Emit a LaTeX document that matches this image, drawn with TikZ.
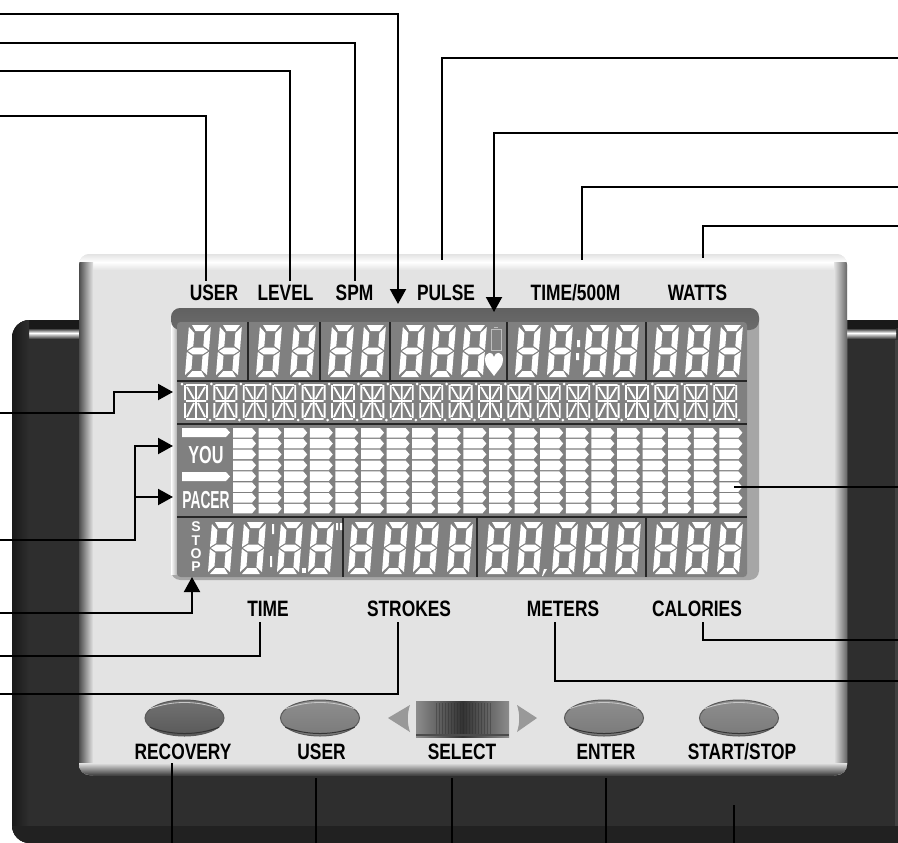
\documentclass[tikz,border=0pt]{standalone}
\usepackage{fontspec}
\setmainfont{Liberation Sans}
\newfontfamily\lblfont[FakeStretch=0.78]{Liberation Sans}
\newfontfamily\youfont[FakeStretch=0.66]{Liberation Sans}
\newfontfamily\pacerfont[FakeStretch=0.56]{Liberation Sans}
\usetikzlibrary{shapes.geometric, arrows.meta, positioning, calc}
\definecolor{panelgray}{HTML}{E3E3E3}
\definecolor{bodygray}{HTML}{2E2E2E}
\definecolor{lcdgray}{HTML}{808080}
\definecolor{keydark}{HTML}{595959}
\definecolor{keymid}{HTML}{7A7A7A}
\tikzset{
    lbl/.style={font=\lblfont\bfseries\fontsize{19}{19}\selectfont, text=black, inner sep=0pt},
    leader/.style={draw=black, line width=0.62mm},
    thinleader/.style={draw=black, line width=0.4mm},
    leaderarrow/.style={leader, -{Triangle[length=4.5mm,width=4.8mm]}},
    divider/.style={draw=black!85, line width=0.45mm},
    button/.style={ellipse, draw=black!65, line width=0.3mm, minimum width=2.37cm, minimum height=1.08cm, inner sep=0pt, top color=#1!85!white, bottom color=#1},
    segdigit/.pic={
        \fill[white, xslant=0.08, shift={(4,0)}]
            (3,0) -- (20,0) -- (16,6) -- (7,6) -- cycle
            (0,2) -- (6,8) -- (6,21) -- (0,25) -- cycle
            (22,2) -- (16,8) -- (16,21) -- (22,25) -- cycle
            (1,26) -- (6,22.7) -- (16,22.7) -- (21,26) -- (16,29.3) -- (6,29.3) -- cycle
            (0,27) -- (6,31) -- (6,44) -- (0,50) -- cycle
            (22,27) -- (16,31) -- (16,45) -- (22,50) -- cycle
            (2,52) -- (7,46) -- (16,46) -- (20,52) -- cycle;
    },
    starchar/.pic={
        \draw[white, line width=0.55mm]
            (1,2) -- (21,2) (0,2) -- (0,17) (22,2) -- (22,17)
            (1,18) -- (21,18) (0,20) -- (0,35) (22,20) -- (22,35) (1,36) -- (21,36)
            (11,3) -- (11,17) (11,19) -- (11,35)
            (2,4) -- (9,16) (20,4) -- (13,16) (9,20) -- (2,34) (13,20) -- (20,34);
        \fill[white] (-3,1) circle (1.5) (25,37) circle (1.5);
    },
    barcell/.pic={
        \fill[white] (0,0) -- (19,0) -- (23,4.7) -- (19,9.5) -- (0,9.5) -- cycle;
    },
}
\begin{document}
\begin{tikzpicture}[x=0.03cm, y=-0.03cm]
    \useasboundingbox (0,0) rectangle (898,843);

    % housing
    \fill[bodygray] (898,320) [rounded corners=15pt] -- (12,320) -- (12,843) -- (60,843) [sharp corners] -- (898,843) -- cycle;
    \begin{scope}
        \clip (898,320) [rounded corners=15pt] -- (12,320) -- (12,843) -- (60,843) [sharp corners] -- (898,843) -- cycle;
        \fill[black!90] (12,320) rectangle (898,328);
        \shade[top color=black!90, bottom color=white] (28,328) rectangle (896,333);
        \shade[top color=white, bottom color=bodygray] (28,333) rectangle (896,339);
        \shade[left color=black!90, right color=bodygray] (12,320) rectangle (29,843);
        \fill[black!87] (12,826) rectangle (898,843);
        \fill[black!75] (895,340) rectangle (898,826);
    \end{scope}

    % face plate
    \fill[panelgray, rounded corners=9pt] (79,254) rectangle (847,775);
    \begin{scope}
        \clip[rounded corners=9pt] (79,254) rectangle (847,775);
        \shade[top color=panelgray, bottom color=white] (79,254) rectangle (847,262);
        \shade[top color=white, bottom color=panelgray] (79,262) rectangle (847,270);
        \shade[left color=black!70, right color=panelgray] (79,262) rectangle (93,775);
        \shade[left color=panelgray, right color=black!60] (834,262) rectangle (847,775);
        \shade[top color=panelgray, bottom color=black!75] (79,763) rectangle (847,775);
    \end{scope}

    % display window
    \fill[black!35, rounded corners=8pt] (171,308) rectangle (759,580);
    \shade[left color=white, right color=black!30] (171,322) rectangle (177,574);
    \shade[top color=black!62, bottom color=black!58, rounded corners=8pt] (171,308) rectangle (759,330);
    \fill[lcdgray, rounded corners=3pt] (177,322) rectangle (747,577);

    \foreach \dx in {248,320,390,507,646}
        \draw[divider] (\dx,322) -- (\dx,381);
    \foreach \dx in {343,477,646}
        \draw[divider] (\dx,517) -- (\dx,577);
    \foreach \dy in {381,424,517}
        \draw[divider] (177,\dy) -- (747,\dy);

    \foreach \gx in {185,216,256,290,328,360,399,430,461,515,547,583,613,653,685,717}
        \pic at (\gx,325) {segdigit};
    \foreach \gx in {208,240,277,308,348,382,413,447,485,517,552,583,615,653,685,717}
        \pic at (\gx,522) {segdigit};
    \foreach \k in {0,...,18}
        \pic at ({185+29.4*\k},383) {starchar};
    \foreach \k in {0,...,19}
        \foreach \r in {0,...,7}
            \pic at ({233+25.6*\k},{428+10.85*\r}) {barcell};

    % small display marks
    \fill[white] (577,340) rectangle (580,347) (576,353) rectangle (579,360);
    \fill[white] (272,524) rectangle (274,534) (270,556) rectangle (272,567);
    \fill[white] (302,568) rectangle (306,573);
    \fill[white] (336,523) rectangle (338,530) (340,523) rectangle (342,530);
    \fill[white] (544,569) -- (547,569) -- (543,576) -- (542,576) -- cycle;
    \fill[white] (182,428) -- (226,428) -- (230,432.5) -- (226,437) -- (182,437) -- cycle;
    \fill[white] (182,472) -- (226,472) -- (230,476.5) -- (226,481) -- (182,481) -- cycle;
    \draw[black!25, line width=0.3mm] (491,329) rectangle (501,350) (494,327) -- (498,327);
    \fill[white] (494,376) .. controls (489,369) and (485,366) .. (485,360) .. controls (485,351) and (493,351) .. (494,357) .. controls (495,351) and (503,351) .. (503,360) .. controls (503,366) and (499,369) .. (494,376) -- cycle;
    \node[text=white, inner sep=0pt, font=\youfont\bfseries\fontsize{21}{21}\selectfont] (youTag) at (206,455) {YOU};
    \node[text=white, inner sep=0pt, font=\pacerfont\bfseries\fontsize{21}{21}\selectfont] (pacerTag) at (206,500) {PACER};
    \node[text=white, inner sep=0pt, align=center, font=\bfseries\fontsize{12}{11.4}\selectfont] (stopTag) at (196,547) {S\\T\\O\\P};

    % controls
    \node[button=keydark] (recoveryBtn) at (184.5,718) {};
    \node[button=keymid] (userBtn) at (320,718) {};
    \node[button=keymid] (enterBtn) at (604,718) {};
    \node[button=keymid] (startBtn) at (739,718) {};
    \foreach \btn in {recoveryBtn,userBtn,enterBtn,startBtn} {
        \draw[black!22, line width=0.25mm] (\btn.165) .. controls (\btn.125) and (\btn.55) .. (\btn.15);
        \draw[black!80, line width=0.3mm] (\btn.195) .. controls (\btn.235) and (\btn.305) .. (\btn.345);
    }
    \shade[left color=black!45, right color=black!45, middle color=black!80] (416,701) rectangle (509,737);
    \foreach \sx in {436,439,...,490}
        \draw[black!85, opacity=0.35, line width=0.2mm] (\sx,703) -- (\sx,734);
    \fill[black!70] (416,734) rectangle (509,736);
    \fill[black!40] (410,705) -- (388,718) -- (410,732) .. controls (407,723) and (407,714) .. (410,705) -- cycle;
    \fill[black!40] (517,705) -- (537,718) -- (517,732) .. controls (520,723) and (520,714) .. (517,705) -- cycle;

    % labels
    \node[lbl] (userLbl) at (214,293) {USER};
    \node[lbl] (levelLbl) at (285.5,293) {LEVEL};
    \node[lbl] (spmLbl) at (354.5,293) {SPM};
    \node[lbl] (pulseLbl) at (446,293) {PULSE};
    \node[lbl] (timeMLbl) at (575.5,293) {TIME/500M};
    \node[lbl] (wattsLbl) at (697.5,293) {WATTS};
    \node[lbl] (timeLbl) at (268,609) {TIME};
    \node[lbl] (strokesLbl) at (409,609) {STROKES};
    \node[lbl] (metersLbl) at (563,609) {METERS};
    \node[lbl] (caloriesLbl) at (697,609) {CALORIES};
    \node[lbl] (recoveryLbl) at (183,752) {RECOVERY};
    \node[lbl] (userKeyLbl) at (321.5,752) {USER};
    \node[lbl] (selectLbl) at (462,752) {SELECT};
    \node[lbl] (enterLbl) at (606,752) {ENTER};
    \node[lbl] (startLbl) at (742,752) {START/STOP};

    % leader ends
    \coordinate (edgeA) at (0,14);
    \coordinate (edgeB) at (0,43);
    \coordinate (edgeC) at (0,71);
    \coordinate (edgeD) at (0,116);
    \coordinate (edgeE) at (0,413);
    \coordinate (edgeF) at (0,540);
    \coordinate (edgeG) at (0,613);
    \coordinate (edgeH) at (0,656);
    \coordinate (edgeI) at (0,694);
    \coordinate (edgeJ) at (898,58);
    \coordinate (edgeK) at (898,133);
    \coordinate (edgeL) at (898,187);
    \coordinate (edgeM) at (898,226);
    \coordinate (edgeN) at (898,487);
    \coordinate (edgeO) at (898,640);
    \coordinate (edgeP) at (898,681);
    \coordinate (pulseTip) at (398,304);
    \coordinate (heartTip) at (494,312);
    \coordinate (spmFoot) at (355,281);
    \coordinate (levelFoot) at (290,281);
    \coordinate (userFoot) at (206,281);
    \coordinate (pulseFoot) at (442,260);
    \coordinate (timeMFoot) at (582,260);
    \coordinate (wattsFoot) at (703,258);
    \coordinate (timeFoot) at (260,622);
    \coordinate (strokesFoot) at (398,622);
    \coordinate (metersFoot) at (555,622);
    \coordinate (caloriesFoot) at (703,622);
    \coordinate (stopTip) at (192,577);
    \coordinate (charsTip) at (173,392);
    \coordinate (youTip) at (173,446);
    \coordinate (pacerTip) at (173,497);
    \coordinate (pacerBend) at (135,497);
    \coordinate (barsEnd) at (734,487);

    \draw[leaderarrow] (edgeA) -| (pulseTip);
    \draw[leader] (edgeB) -| (spmFoot);
    \draw[leader] (edgeC) -| (levelFoot);
    \draw[leader] (edgeD) -| (userFoot);
    \draw[leader] (edgeJ) -| (pulseFoot);
    \draw[leaderarrow] (edgeK) -| (heartTip);
    \draw[leader] (edgeL) -| (timeMFoot);
    \draw[leader] (edgeM) -| (wattsFoot);
    \draw[leaderarrow] (edgeE) -- (114,413) |- (charsTip);
    \draw[leaderarrow] (edgeF) -- (135,540) |- (youTip);
    \draw[leaderarrow] (pacerBend) -- (pacerTip);
    \draw[leaderarrow] (edgeG) -| (stopTip);
    \draw[leader] (edgeH) -| (timeFoot);
    \draw[leader] (edgeI) -| (strokesFoot);
    \draw[thinleader] (edgeN) -- (barsEnd);
    \draw[leader] (edgeO) -| (caloriesFoot);
    \draw[leader] (edgeP) -| (metersFoot);

    % lines at the foot of the plate
    \coordinate (recoveryTop) at (172,763);
    \coordinate (recoveryEnd) at (172,843);
    \coordinate (userKeyTop) at (316,778);
    \coordinate (userKeyEnd) at (316,843);
    \coordinate (selectTop) at (452,778);
    \coordinate (selectEnd) at (452,843);
    \coordinate (enterTop) at (606,778);
    \coordinate (enterEnd) at (606,843);
    \coordinate (startTop) at (734,805);
    \coordinate (startEnd) at (734,843);
    \draw[thinleader] (recoveryTop) -- (recoveryEnd);
    \draw[thinleader] (userKeyTop) -- (userKeyEnd);
    \draw[thinleader] (selectTop) -- (selectEnd);
    \draw[thinleader] (enterTop) -- (enterEnd);
    \draw[thinleader] (startTop) -- (startEnd);
\end{tikzpicture}
\end{document}
